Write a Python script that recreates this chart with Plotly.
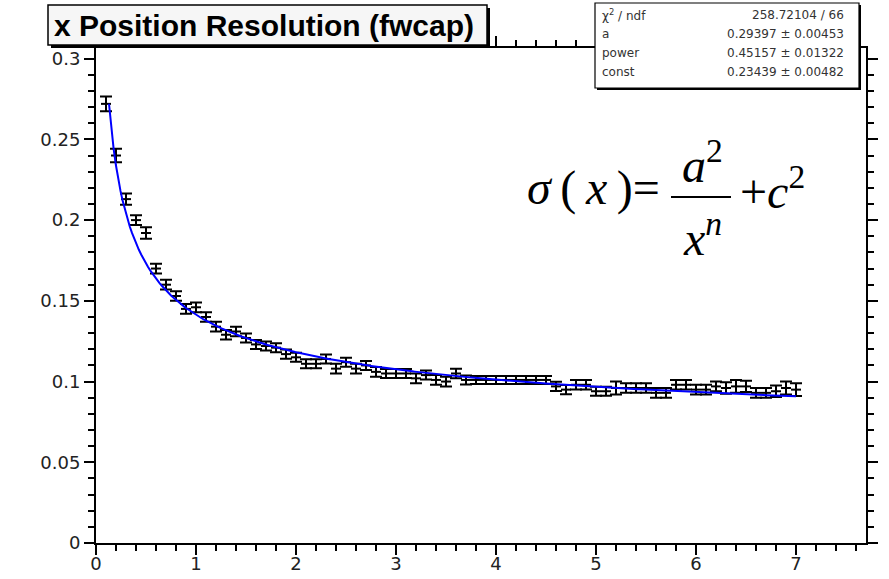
import numpy as np
import plotly.graph_objects as go

# ---- data ----
x_centers = [round(0.1 * k, 1) for k in range(1, 71)]
y_values = [
    0.272, 0.240, 0.213, 0.200, 0.192, 0.170, 0.160, 0.153, 0.145, 0.146,
    0.140, 0.134, 0.129, 0.131, 0.127, 0.123, 0.122, 0.121, 0.117, 0.115,
    0.111, 0.111, 0.114, 0.108, 0.112, 0.108, 0.110, 0.106, 0.105, 0.105,
    0.105, 0.102, 0.104, 0.101, 0.100, 0.105, 0.101, 0.101, 0.101, 0.101,
    0.101, 0.101, 0.101, 0.101, 0.101, 0.097, 0.095, 0.098, 0.098, 0.094,
    0.094, 0.096, 0.096, 0.096, 0.096, 0.093, 0.093, 0.098, 0.098, 0.095,
    0.095, 0.097, 0.096, 0.097, 0.097, 0.093, 0.093, 0.094, 0.096, 0.095,
]
y_errors = [
    0.0045, 0.0042, 0.0035, 0.0030, 0.0035, 0.0030, 0.0030, 0.0030, 0.0030, 0.0030,
    0.0030, 0.0030, 0.0030, 0.0030, 0.0028, 0.0028, 0.0028, 0.0028, 0.0028, 0.0028,
    0.0028, 0.0028, 0.0028, 0.0030, 0.0028, 0.0030, 0.0028, 0.0030, 0.0028, 0.0028,
    0.0028, 0.0030, 0.0028, 0.0030, 0.0030, 0.0030, 0.0028, 0.0025, 0.0025, 0.0025,
    0.0025, 0.0025, 0.0025, 0.0025, 0.0025, 0.0028, 0.0028, 0.0030, 0.0030, 0.0028,
    0.0028, 0.0040, 0.0030, 0.0030, 0.0030, 0.0030, 0.0030, 0.0030, 0.0030, 0.0030,
    0.0030, 0.0030, 0.0035, 0.0040, 0.0035, 0.0030, 0.0030, 0.0035, 0.0040, 0.0040,
]
bin_half_width = 0.05

# fit parameters shown in the stats box
fit_a = 0.29397
fit_power = 0.45157
fit_const = 0.23439
fit_range = (0.13, 7.0)

stat_labels = ["\u03c7<sup>2</sup> / ndf", "a", "power", "const"]
stat_values = ["258.72104 / 66", "0.29397 \u00b1 0.00453",
               "0.45157 \u00b1 0.01322", "0.23439 \u00b1 0.00482"]

title_text = "x Position Resolution (fwcap)"

# ---- layout geometry (pixels) ----
W, H = 889, 579
L, R, T, B = 96, 866, 48, 543


def px(xp):
    return (xp - L) / (R - L)


def py(yp):
    return (B - yp) / (B - T)


fig = go.Figure()

fig.add_trace(go.Scatter(
    x=x_centers, y=y_values, mode="markers",
    marker=dict(size=2, color="black"),
    error_y=dict(type="data", array=y_errors, visible=True, color="black",
                 thickness=2, width=6),
    error_x=dict(type="data", array=[bin_half_width] * len(x_centers),
                 visible=True, color="black", thickness=2, width=0),
    showlegend=False, hoverinfo="skip",
))

xf = np.linspace(fit_range[0], fit_range[1], 300)
yf = fit_a ** 2 / xf ** fit_power + fit_const ** 2
fig.add_trace(go.Scatter(x=xf, y=yf, mode="lines",
                         line=dict(color="#0000ff", width=2),
                         showlegend=False, hoverinfo="skip"))

tickfont = dict(family="DejaVu Sans, sans-serif", size=18, color="#222222")
axis_common = dict(showgrid=False, zeroline=False, showline=True, linecolor="black",
                   linewidth=2, ticks="outside", tickcolor="black", tickwidth=2,
                   mirror="ticks", tickfont=tickfont, automargin=False)

fig.update_layout(
    width=W, height=H,
    margin=dict(l=L, r=W - R, t=T, b=H - B, pad=0),
    plot_bgcolor="white", paper_bgcolor="white",
    xaxis=dict(range=[0, 7.7], dtick=1, tick0=0, ticklen=10, ticklabelstandoff=-7,
               minor=dict(dtick=0.2, ticklen=6, tickcolor="black", tickwidth=2, ticks="outside"),
               **axis_common),
    yaxis=dict(range=[0, 0.3066], dtick=0.05, tick0=0, ticklen=10,
               minor=dict(dtick=0.01, ticklen=6, tickcolor="black", tickwidth=2, ticks="outside"),
               **axis_common),
)

# title box with shadow
fig.add_shape(type="rect", xref="paper", yref="paper",
              x0=px(51), x1=px(490), y0=py(48), y1=py(8),
              line=dict(color="black", width=0), fillcolor="black")
fig.add_shape(type="rect", xref="paper", yref="paper",
              x0=px(48), x1=px(487), y0=py(45), y1=py(5),
              line=dict(color="black", width=1.5), fillcolor="#f6f6f6")
fig.add_annotation(xref="paper", yref="paper", x=px(264), y=py(26),
                   text="<b>" + title_text + "</b>", showarrow=False,
                   font=dict(family="Liberation Sans, Arial, sans-serif", size=30, color="black"),
                   xanchor="center", yanchor="middle")

# stats box with shadow
fig.add_shape(type="rect", xref="paper", yref="paper",
              x0=px(597), x1=px(861), y0=py(90), y1=py(5),
              line=dict(color="black", width=0), fillcolor="black")
fig.add_shape(type="rect", xref="paper", yref="paper",
              x0=px(595), x1=px(859), y0=py(88), y1=py(3),
              line=dict(color="black", width=1.2), fillcolor="white")
row_y = [15, 34, 53, 72]
sfont = dict(family="DejaVu Sans, sans-serif", size=12, color="#333333")
for lab, val, ry in zip(stat_labels, stat_values, row_y):
    fig.add_annotation(xref="paper", yref="paper", x=px(600), y=py(ry), text=lab,
                       showarrow=False, xanchor="left", yanchor="middle", font=sfont)
    fig.add_annotation(xref="paper", yref="paper", x=px(846), y=py(ry), text=val,
                       showarrow=False, xanchor="right", yanchor="middle", font=sfont)

# formula  sigma(x) = a^2 / x^n + c^2
serif = "Liberation Serif, Times New Roman, serif"
ffont = dict(family=serif, size=48, color="black")
fig.add_annotation(xref="paper", yref="paper", x=px(525), y=py(188),
                   text="<i>\u03c3</i>\u2009(\u2009<i>x</i>\u2009)=", showarrow=False,
                   xanchor="left", yanchor="middle", font=ffont)
fig.add_annotation(xref="paper", yref="paper", x=px(702), y=py(162),
                   text="<i>a</i><sup>2</sup>", showarrow=False,
                   xanchor="center", yanchor="middle", font=ffont)
fig.add_shape(type="line", xref="paper", yref="paper",
              x0=px(671), x1=px(731), y0=py(197), y1=py(197),
              line=dict(color="black", width=2))
fig.add_annotation(xref="paper", yref="paper", x=px(702), y=py(235),
                   text="<i>x</i><sup><i>n</i></sup>", showarrow=False,
                   xanchor="center", yanchor="middle", font=ffont)
fig.add_annotation(xref="paper", yref="paper", x=px(738), y=py(188),
                   text="+<i>c</i><sup>2</sup>", showarrow=False,
                   xanchor="left", yanchor="middle", font=ffont)

fig.write_html("out.html")
